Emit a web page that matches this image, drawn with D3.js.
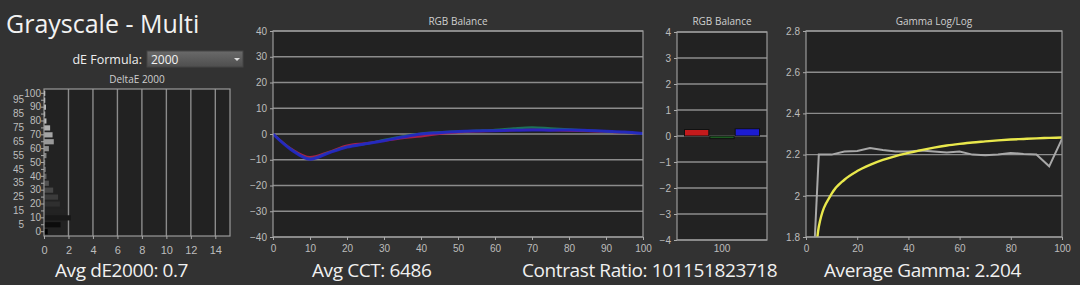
<!DOCTYPE html>
<html>
<head>
<meta charset="utf-8">
<script src="https://cdn.jsdelivr.net/npm/d3@7"></script>
<style>
  html, body { margin: 0; padding: 0; background: #323232; }
  svg { display: block; font-family: "Open Sans", sans-serif; }
  .tick text { fill: #bdbdbd; font-size: 10px; }
  .tick line { stroke: #aaa; }
</style>
</head>
<body>
<div id="chart"></div>
<script>
var levels = [0, 5, 10, 15, 20, 25, 30, 35, 40, 45, 50, 55, 60, 65, 70, 75, 80, 85, 90, 95, 100];

// DeltaE 2000 per gray level
var deltaE = [0.3, 1.35, 2.2, 1.7, 1.3, 1.15, 0.75, 0.4, 0.2, 0.15, 0.1, 0.2, 0.4, 0.8, 0.7, 0.5, 0.2, 0.1, 0.15, 0.1, 0.1];
var deltaETicks = [0, 2, 4, 6, 8, 10, 12, 14];

// RGB balance (%)
var redBal = [0, -5.8, -9.0, -7.0, -4.5, -3.6, -2.6, -1.6, -0.9, 0.0, 0.6, 1.0, 1.2, 1.5, 1.7, 1.5, 1.3, 1.1, 0.9, 0.5, 0];
var greenBal = [0, -6.0, -9.6, -7.2, -5.0, -3.9, -2.3, -0.9, 0.2, 0.7, 1.0, 1.3, 1.6, 2.2, 2.6, 2.2, 1.8, 1.4, 1.0, 0.6, 0];
var blueBal = [0, -6.2, -9.8, -7.4, -5.1, -3.8, -2.6, -1.2, 0.0, 0.5, 1.0, 1.2, 1.3, 1.5, 1.6, 1.5, 1.6, 1.4, 1.1, 0.8, 0.2];
var rgbTicksY = [-40, -30, -20, -10, 0, 10, 20, 30, 40];
var rgbTicksX = [0, 10, 20, 30, 40, 50, 60, 70, 80, 90, 100];

// RGB balance at 100%
var balChannels = ["R", "G", "B"];
var balValues = [0.25, -0.1, 0.28];
var balTicks = [-4, -3, -2, -1, 0, 1, 2, 3, 4];

// gamma
var gammaMeasured = [0.9, 2.2, 2.2, 2.215, 2.218, 2.232, 2.222, 2.215, 2.215, 2.22, 2.215, 2.21, 2.215, 2.2, 2.197, 2.2, 2.208, 2.203, 2.2, 2.143, 2.276];
var gammaTarget = [0.9, 1.85, 2.01, 2.078, 2.12, 2.15, 2.174, 2.193, 2.208, 2.222, 2.234, 2.244, 2.252, 2.259, 2.264, 2.269, 2.273, 2.276, 2.279, 2.281, 2.283];
var gammaTicksY = [1.8, 2.0, 2.2, 2.4, 2.6, 2.8];
var gammaTicksX = [0, 20, 40, 60, 80, 100];

var W = 1080, H = 285;
var plotBg = "#222222", gridColor = "#8c8c8c", borderColor = "#9a9a9a";

var svg = d3.select("#chart").append("svg")
    .attr("width", W)
    .attr("height", H);

var defs = svg.append("defs");

function frame(box, title, titleY) {
    svg.append("rect")
        .attr("x", box.left).attr("y", box.top)
        .attr("width", box.right - box.left).attr("height", box.bottom - box.top)
        .attr("fill", plotBg);
    svg.append("text")
        .attr("x", (box.left + box.right) / 2)
        .attr("y", titleY)
        .attr("text-anchor", "middle")
        .style("font-size", "10px")
        .style("fill", "#cfcfcf")
        .text(title);
}

function border(box) {
    svg.append("rect")
        .attr("x", box.left).attr("y", box.top)
        .attr("width", box.right - box.left).attr("height", box.bottom - box.top)
        .attr("fill", "none")
        .attr("stroke", borderColor)
        .attr("stroke-width", 1.2);
}

function hGrid(y, vals, box) {
    svg.append("g").selectAll("line")
        .data(vals)
        .enter().append("line")
        .attr("x1", box.left).attr("x2", box.right)
        .attr("y1", function (d) { return y(d); })
        .attr("y2", function (d) { return y(d); })
        .attr("stroke", gridColor)
        .attr("stroke-width", 1.4);
}

function clip(id, box) {
    defs.append("clipPath").attr("id", id)
        .append("rect")
        .attr("x", box.left).attr("y", box.top)
        .attr("width", box.right - box.left).attr("height", box.bottom - box.top);
}

function cleanAxis(g) {
    g.select(".domain").remove();
}

// header
svg.append("text")
    .attr("x", 6).attr("y", 33)
    .style("font-size", "25px")
    .style("fill", "#f2f2f2")
    .text("Grayscale - Multi");

svg.append("text")
    .attr("x", 142).attr("y", 64)
    .attr("text-anchor", "end")
    .style("font-size", "12.5px")
    .style("fill", "#eeeeee")
    .text("dE Formula:");

var grad = defs.append("linearGradient").attr("id", "ddGrad")
    .attr("x1", 0).attr("y1", 0).attr("x2", 0).attr("y2", 1);
grad.append("stop").attr("offset", 0).attr("stop-color", "#6a6a6a");
grad.append("stop").attr("offset", 1).attr("stop-color", "#4e4e4e");

svg.append("rect")
    .attr("x", 147).attr("y", 51)
    .attr("width", 96).attr("height", 16)
    .attr("fill", "url(#ddGrad)")
    .attr("stroke", "#444");
svg.append("text")
    .attr("x", 151).attr("y", 63.5)
    .style("font-size", "12px")
    .style("fill", "#f2f2f2")
    .text("2000");
svg.append("path")
    .attr("d", "M234,58 L240,58 L237,61 Z")
    .attr("fill", "#ddd");

// DeltaE 2000 bars
var deBox = {left: 44, right: 230, top: 89, bottom: 236};
frame(deBox, "DeltaE 2000", 83);

var deX = d3.scaleLinear().domain([0, 15.2]).range([deBox.left, deBox.right]);
var deY = d3.scaleBand().domain(levels.slice().reverse()).range([deBox.top, deBox.bottom]).padding(0.25);

svg.append("g").selectAll("line")
    .data(deltaETicks.slice(1))
    .enter().append("line")
    .attr("x1", function (d) { return deX(d); })
    .attr("x2", function (d) { return deX(d); })
    .attr("y1", deBox.top).attr("y2", deBox.bottom)
    .attr("stroke", gridColor)
    .attr("stroke-width", 1.4);

svg.append("g").selectAll("rect")
    .data(levels)
    .enter().append("rect")
    .attr("x", deX(0))
    .attr("y", function (d) { return deY(d); })
    .attr("width", function (d, i) { return deX(deltaE[i]) - deX(0); })
    .attr("height", deY.bandwidth())
    .attr("fill", function (d) {
        var v = Math.round(d / 100 * 235);
        return "rgb(" + v + "," + v + "," + v + ")";
    });

border(deBox);

svg.append("g")
    .attr("transform", "translate(0," + deBox.bottom + ")")
    .call(d3.axisBottom(deX).tickValues(deltaETicks).tickSize(3))
    .call(cleanAxis)
    .selectAll("text").attr("dy", "1.1em").style("font-size", "11px");

svg.append("g")
    .attr("transform", "translate(" + deBox.left + ",0)")
    .call(d3.axisLeft(deY).tickSize(3))
    .call(cleanAxis)
    .selectAll("text")
    .attr("x", function (d) { return d % 10 === 0 ? -3 : -20; })
    .style("font-size", "10px");

// RGB balance lines
var rgbBox = {left: 273, right: 643, top: 31, bottom: 237};
frame(rgbBox, "RGB Balance", 25);
clip("rgbClip", rgbBox);

var rgbX = d3.scaleLinear().domain([0, 100]).range([rgbBox.left, rgbBox.right]);
var rgbY = d3.scaleLinear().domain([-40, 40]).range([rgbBox.bottom, rgbBox.top]);

hGrid(rgbY, rgbTicksY, rgbBox);

var rgbLine = function (vals) {
    return d3.line()
        .x(function (d) { return rgbX(d); })
        .y(function (d, i) { return rgbY(vals[i]); })
        .curve(d3.curveMonotoneX)(levels);
};

var rgbSeries = [
    {vals: redBal, color: "#b3214f", w: 2.2},
    {vals: greenBal, color: "#1e7a5e", w: 2.2},
    {vals: blueBal, color: "#2424c8", w: 3}
];
svg.append("g").attr("clip-path", "url(#rgbClip)")
    .selectAll("path")
    .data(rgbSeries)
    .enter().append("path")
    .attr("d", function (s) { return rgbLine(s.vals); })
    .attr("fill", "none")
    .attr("stroke", function (s) { return s.color; })
    .attr("stroke-width", function (s) { return s.w; })
    .attr("stroke-opacity", 0.9);

border(rgbBox);

svg.append("g")
    .attr("transform", "translate(0," + rgbBox.bottom + ")")
    .call(d3.axisBottom(rgbX).tickValues(rgbTicksX).tickSize(3))
    .call(cleanAxis)
    .selectAll("text").attr("dy", "0.9em");

svg.append("g")
    .attr("transform", "translate(" + rgbBox.left + ",0)")
    .call(d3.axisLeft(rgbY).tickValues(rgbTicksY).tickSize(3))
    .call(cleanAxis);

// RGB balance bars at 100
var balBox = {left: 677, right: 767, top: 32, bottom: 240};
frame(balBox, "RGB Balance", 25);

var balX = d3.scaleBand().domain(["100"]).range([balBox.left, balBox.right]).paddingOuter(0.1);
var balInner = d3.scaleBand().domain(balChannels).range([0, balX.bandwidth()]).paddingInner(0.04);
var balY = d3.scaleLinear().domain([-4, 4]).range([balBox.bottom, balBox.top]);
var balColors = {R: "#c41a1c", G: "#1d5a22", B: "#1c1cd2"};

hGrid(balY, balTicks, balBox);

svg.append("g").selectAll("rect")
    .data(balChannels)
    .enter().append("rect")
    .attr("x", function (d) { return balX("100") + balInner(d); })
    .attr("y", function (d, i) { return balY(Math.max(0, balValues[i])); })
    .attr("width", balInner.bandwidth())
    .attr("height", function (d, i) { return Math.abs(balY(balValues[i]) - balY(0)); })
    .attr("fill", function (d) { return balColors[d]; })
    .attr("stroke", "#111")
    .attr("stroke-width", 1);

border(balBox);

svg.append("g")
    .attr("transform", "translate(0," + balBox.bottom + ")")
    .call(d3.axisBottom(balX).tickSize(0))
    .call(cleanAxis)
    .selectAll("text").attr("dy", "0.9em");

svg.append("g")
    .attr("transform", "translate(" + balBox.left + ",0)")
    .call(d3.axisLeft(balY).tickValues(balTicks).tickSize(3))
    .call(cleanAxis);

// Gamma log/log
var gBox = {left: 806, right: 1062, top: 31, bottom: 237};
frame(gBox, "Gamma Log/Log", 25);
clip("gClip", gBox);

var gX = d3.scaleLinear().domain([0, 100]).range([gBox.left, gBox.right]);
var gY = d3.scaleLinear().domain([1.8, 2.8]).range([gBox.bottom, gBox.top]);

hGrid(gY, gammaTicksY, gBox);

var gLine = function (vals, curve) {
    return d3.line()
        .x(function (d) { return gX(d); })
        .y(function (d, i) { return gY(vals[i]); })
        .curve(curve)(levels);
};

var gG = svg.append("g").attr("clip-path", "url(#gClip)");
gG.append("path")
    .attr("d", gLine(gammaMeasured, d3.curveLinear))
    .attr("fill", "none")
    .attr("stroke", "#a8a8a8")
    .attr("stroke-width", 2);
gG.append("path")
    .attr("d", gLine(gammaTarget, d3.curveMonotoneX))
    .attr("fill", "none")
    .attr("stroke", "#e9e84c")
    .attr("stroke-width", 2.4);

border(gBox);

svg.append("g")
    .attr("transform", "translate(0," + gBox.bottom + ")")
    .call(d3.axisBottom(gX).tickValues(gammaTicksX).tickSize(3))
    .call(cleanAxis)
    .selectAll("text").attr("dy", "0.9em");

svg.append("g")
    .attr("transform", "translate(" + gBox.left + ",0)")
    .call(d3.axisLeft(gY).tickValues(gammaTicksY).tickSize(3).tickFormat(d3.format("~g")))
    .call(cleanAxis);

// footer stats
var stats = [
    {x: 55, text: "Avg dE2000: 0.7"},
    {x: 312, text: "Avg CCT: 6486"},
    {x: 522, text: "Contrast Ratio: 101151823718"},
    {x: 824, text: "Average Gamma: 2.204"}
];
svg.append("g").selectAll("text")
    .data(stats)
    .enter().append("text")
    .attr("x", function (d) { return d.x; })
    .attr("y", 277)
    .style("font-size", "19px")
    .style("letter-spacing", "-0.4px")
    .style("fill", "#f0f0f0")
    .text(function (d) { return d.text; });
</script>
</body>
</html>
